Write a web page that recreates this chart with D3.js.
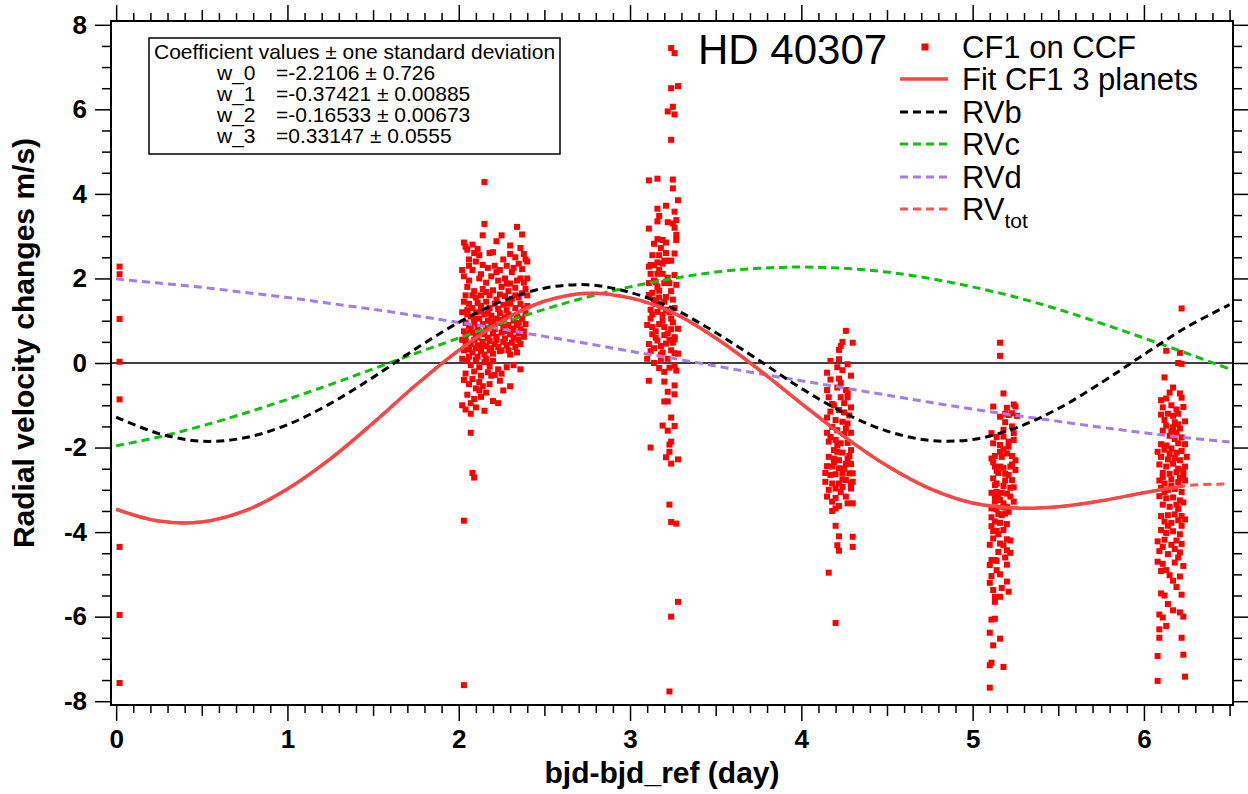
<!DOCTYPE html>
<html><head><meta charset="utf-8">
<script src="https://cdn.jsdelivr.net/npm/d3@7"></script>
<style>body{margin:0;background:#fff}svg{display:block}text{font-family:"Liberation Sans",Arial,Helvetica,sans-serif}</style>
</head><body>
<svg id="chart" width="1248" height="794"></svg>
<script>
// ---------- data ----------
const xTicks = [0,1,2,3,4,5,6];
const yTicks = [-8,-6,-4,-2,0,2,4,6,8];
const xLabel = "bjd-bjd_ref (day)";
const yLabel = "Radial velocity changes m/s)";
const title = "HD 40307";

const modelX = [0,0.25,0.5,0.75,1,1.25,1.5,1.75,2,2.25,2.5,2.75,3,3.25,3.5,3.75,4,4.25,4.5,4.75,5,5.25,5.5,5.75,6,6.25,6.5];
const rvb = [-1.28,-1.67,-1.85,-1.77,-1.46,-0.96,-0.34,0.34,0.96,1.46,1.77,1.85,1.67,1.29,0.72,0.07,-0.60,-1.18,-1.61,-1.83,-1.81,-1.54,-1.08,-0.47,0.20,0.85,1.38];
const rvc = [-1.96,-1.75,-1.49,-1.19,-0.86,-0.51,-0.14,0.23,0.59,0.94,1.27,1.56,1.80,2.00,2.15,2.24,2.27,2.24,2.15,2.00,1.80,1.56,1.27,0.94,0.59,0.23,-0.14];
const rvd = [1.99,1.89,1.79,1.67,1.55,1.41,1.27,1.12,0.96,0.80,0.63,0.46,0.28,0.11,-0.07,-0.25,-0.42,-0.59,-0.76,-0.93,-1.09,-1.24,-1.38,-1.52,-1.65,-1.77,-1.87];
const rvtot = [-3.46,-3.74,-3.76,-3.50,-2.98,-2.27,-1.42,-0.52,0.30,0.99,1.46,1.65,1.54,1.19,0.59,-0.15,-0.96,-1.74,-2.43,-2.97,-3.31,-3.43,-3.40,-3.26,-3.07,-2.90,-2.86];
const fitX = [0,0.25,0.5,0.75,1,1.25,1.5,1.75,2,2.25,2.5,2.75,3,3.25,3.5,3.75,4,4.25,4.5,4.75,5,5.25,5.5,5.75,6,6.23];
const fitY = [-3.46,-3.74,-3.76,-3.50,-2.98,-2.27,-1.42,-0.52,0.30,0.99,1.46,1.65,1.54,1.19,0.59,-0.15,-0.96,-1.74,-2.43,-2.97,-3.31,-3.43,-3.40,-3.26,-3.07,-2.91];

const night0 = [[0.02,2.28],[0.02,2.10],[0.02,1.04],[0.02,0.03],[0.02,-0.86],[0.02,-4.35],[0.02,-5.96],[0.02,-7.57]];
const night2 = [[2.15,4.28],[2.07,-1.65],[2.08,-2.60],[2.09,-2.71],[2.03,-3.73],[2.03,-7.62],
[2.15,3.29],[2.34,3.22],[2.14,3.02],[2.25,3.02],[2.37,3.04],[2.08,2.8],[2.03,2.85],[2.22,2.88],[2.30,2.78],[2.11,2.7],[2.36,2.72],
[2.04,2.75],[2.05,2.68],[2.09,2.6],[2.12,2.55],[2.18,2.6],[2.2,2.62],[2.26,2.45],[2.3,2.58],[2.33,2.5],[2.38,2.58],[2.39,2.45],[2.06,2.3],[2.1,2.4],[2.14,2.32],[2.17,2.25],[2.21,2.3],[2.28,2.3],[2.35,2.35],[2.02,2.2],[2.08,2.2],[2.24,2.2],[2.31,2.15],[2.37,2.22],
[2.03,2.05],[2.06,1.95],[2.12,2.0],[2.16,1.9],[2.19,2.05],[2.23,1.95],[2.27,2.0],[2.3,1.88],[2.34,1.95],[2.38,1.9],[2.4,2.0],[2.05,1.8],[2.09,1.7],[2.14,1.75],[2.2,1.72],[2.25,1.8],[2.29,1.7],[2.33,1.78],[2.37,1.65],[2.39,1.75],[2.04,1.6],[2.1,1.55],[2.18,1.6],[2.22,1.5],[2.27,1.58],[2.31,1.52],[2.35,1.55],
[2.03,1.45],[2.06,1.4],[2.08,1.3],[2.11,1.42],[2.13,1.35],[2.16,1.45],[2.18,1.3],[2.21,1.4],[2.23,1.28],[2.26,1.38],[2.28,1.25],[2.3,1.42],[2.33,1.3],[2.36,1.4],[2.38,1.28],[2.4,1.35],[2.02,1.2],[2.05,1.15],[2.07,1.1],[2.1,1.2],[2.12,1.05],[2.15,1.15],[2.17,1.0],[2.19,1.12],[2.22,1.05],[2.24,1.18],[2.27,1.08],[2.29,1.15],[2.32,1.0],[2.34,1.12],[2.37,1.05],[2.39,1.18],[2.04,0.95],[2.06,0.88],[2.09,0.95],[2.11,0.85],[2.14,0.92],[2.16,0.82],[2.19,0.9],[2.21,0.8],[2.24,0.95],[2.26,0.85],[2.29,0.9],[2.31,0.82],[2.34,0.9],[2.36,0.8],[2.39,0.92],
[2.03,0.75],[2.05,0.7],[2.08,0.72],[2.1,0.65],[2.12,0.75],[2.15,0.68],[2.17,0.6],[2.2,0.7],[2.22,0.62],[2.25,0.72],[2.27,0.58],[2.3,0.68],[2.32,0.6],[2.35,0.7],[2.38,0.62],[2.02,0.55],[2.04,0.5],[2.07,0.45],[2.09,0.55],[2.11,0.42],[2.14,0.5],[2.16,0.4],[2.18,0.52],[2.21,0.45],[2.23,0.38],[2.26,0.5],[2.28,0.42],[2.31,0.48],[2.33,0.38],[2.36,0.45],[2.06,0.32],[2.08,0.25],[2.1,0.35],[2.13,0.28],[2.15,0.2],[2.18,0.3],[2.2,0.22],[2.24,0.28],[2.29,0.3],[2.34,0.25],[2.03,0.3],
[2.02,0.1],[2.05,0.05],[2.07,-0.05],[2.1,0.08],[2.12,-0.1],[2.15,0.02],[2.18,-0.08],[2.2,0.05],[2.23,-0.15],[2.28,-0.1],[2.32,-0.05],[2.36,-0.15],[2.04,-0.25],[2.09,-0.2],[2.13,-0.3],[2.17,-0.22],[2.21,-0.28],
[2.03,-0.4],[2.06,-0.5],[2.08,-0.38],[2.1,-0.6],[2.12,-0.45],[2.14,-0.55],[2.16,-0.7],[2.18,-0.5],[2.24,-0.42],[2.26,-0.65],[2.3,-0.55],[2.05,-0.75],[2.09,-0.85],[2.13,-0.8],[2.2,-0.9],[2.23,-0.95],[2.02,-1.0],[2.04,-1.1],[2.07,-1.2],[2.15,-1.13],[2.1,-1.05],
[2.05,1.25],[2.09,1.05],[2.13,1.22],[2.17,1.18],[2.2,0.98],[2.25,1.02],[2.28,0.75],[2.32,0.78],[2.35,0.95],[2.38,0.75],[2.04,0.62],[2.07,0.82],[2.11,0.6],[2.14,0.4],[2.19,0.35],[2.22,0.55],[2.25,0.3],[2.3,0.2],[2.35,0.55],[2.06,0.15],[2.11,0.15],[2.16,0.1],[2.19,-0.3],[2.25,-0.25],[2.08,1.6],[2.13,1.6],[2.16,1.68],[2.24,1.62],[2.28,1.88],[2.32,2.25],[2.36,2.0],[2.4,1.6],[2.4,2.4],[2.06,2.45],[2.13,2.1],[2.22,2.15],[2.29,1.4],[2.33,1.6],[2.12,-0.65],[2.07,-0.95]];
const night3 = [[3.24,7.45],[3.26,7.33],[3.24,6.50],[3.28,6.55],[3.25,6.06],[3.22,5.95],[3.26,5.88],[3.24,5.28],
[3.11,4.32],[3.16,4.36],[3.25,4.34],[3.25,4.13],[3.28,3.85],[3.16,3.65],[3.21,3.72],[3.26,3.58],[3.17,3.48],
[3.22,3.33],[3.16,3.35],[3.27,3.38],[3.25,3.30],[3.26,3.20],[3.11,3.18],[3.27,3.03],[3.27,2.91],
[3.16,2.93],[3.19,2.91],[3.21,2.85],[3.14,2.82],[3.18,2.72],[3.26,2.59],
[3.13,2.55],[3.17,2.55],[3.20,2.42],[3.22,2.42],[3.24,2.42],[3.12,2.32],[3.16,2.38],[3.19,2.35],[3.11,2.28],[3.14,2.31],
[3.12,2.11],[3.16,2.11],[3.19,2.11],[3.22,2.02],[3.26,2.08],[3.11,1.89],[3.15,1.91],[3.20,1.89],[3.23,1.89],[3.27,1.85],
[3.11,1.61],[3.13,1.66],[3.17,1.71],[3.21,1.56],[3.25,1.50],[3.14,1.50],[3.12,1.26],[3.16,1.21],[3.19,1.14],[3.21,1.26],[3.25,0.96],
[3.10,0.90],[3.13,0.85],[3.17,0.92],[3.20,0.85],[3.24,0.80],[3.28,0.81],[3.26,0.61],[3.13,0.68],[3.16,0.53],[3.21,0.46],[3.25,0.48],[3.26,0.56],[3.20,0.66],
[3.12,0.28],[3.18,0.20],[3.22,0.10],[3.26,0.23],[3.28,0.22],[3.14,0.00],[3.10,0.10],[3.17,-0.12],[3.20,-0.21],[3.23,-0.11],[3.27,-0.18],[3.18,0.05],[3.26,-0.06],
[3.11,-0.42],[3.20,-0.44],[3.22,-0.68],[3.26,-0.53],[3.20,-0.91],[3.22,-0.91],[3.26,-0.74],[3.24,-1.29],[3.26,-1.49],[3.19,-1.48],[3.22,-1.60],
[3.12,-2.00],[3.24,-1.86],[3.23,-1.93],[3.23,-2.10],[3.21,-2.23],[3.28,-2.28],[3.24,-2.38],[3.23,-3.35],[3.24,-3.76],[3.27,-3.80],[3.28,-5.65],[3.24,-6.00],[3.23,-7.77],
[3.15,1.40],[3.18,1.35],[3.23,1.20],[3.19,1.00],[3.15,0.75],[3.22,0.70],[3.18,0.40],[3.14,0.35],[3.24,0.30],[3.16,1.80],[3.24,1.70],[3.12,1.05],
[3.13,1.15],[3.17,1.55],[3.20,1.45],[3.24,1.05],[3.15,0.60],[3.19,0.25],[3.23,0.55],[3.17,2.20],[3.21,2.60],[3.14,1.95],[3.26,1.30],[3.11,0.45]];
const night4 = [[4.26,0.76],[4.24,0.50],[4.30,0.48],[4.23,0.40],[4.22,0.31],[4.17,0.05],[4.22,0.09],[4.27,-0.03],
[4.15,-0.23],[4.21,-0.10],[4.24,-0.17],[4.29,-0.30],[4.17,-0.39],[4.22,-0.37],[4.23,-0.47],[4.15,-0.64],[4.21,-0.58],[4.26,-0.64],[4.27,-0.70],
[4.16,-0.81],[4.23,-0.81],[4.27,-0.81],[4.29,-1.05],[4.18,-0.97],[4.22,-1.11],[4.25,-1.17],[4.28,-1.24],
[4.15,-1.29],[4.20,-1.35],[4.24,-1.39],[4.27,-1.43],[4.29,-1.65],[4.15,-1.65],[4.18,-1.51],[4.21,-1.59],[4.25,-1.68],
[4.16,-1.86],[4.20,-1.82],[4.23,-1.90],[4.27,-1.89],[4.19,-2.06],[4.21,-2.10],[4.24,-2.12],[4.29,-2.06],
[4.16,-2.22],[4.19,-2.26],[4.22,-2.30],[4.27,-2.26],[4.15,-2.44],[4.18,-2.45],[4.22,-2.49],[4.26,-2.39],[4.29,-2.39],
[4.14,-2.60],[4.17,-2.65],[4.20,-2.63],[4.24,-2.60],[4.28,-2.61],[4.30,-2.61],
[4.14,-2.81],[4.18,-2.85],[4.22,-2.85],[4.26,-2.77],[4.29,-2.85],[4.20,-2.97],[4.24,-2.93],[4.30,-2.81],[4.29,-2.97],
[4.15,-3.16],[4.20,-3.19],[4.26,-3.16],[4.18,-3.28],[4.27,-3.32],[4.30,-3.32],[4.22,-3.38],[4.18,-3.50],[4.20,-3.44],
[4.20,-3.85],[4.22,-4.10],[4.30,-4.11],[4.21,-4.31],[4.30,-4.35],[4.22,-4.44],[4.16,-4.96],[4.20,-6.15],
[4.19,-1.00],[4.25,-0.95],[4.17,-1.75],[4.26,-1.55],[4.19,-2.35],[4.25,-2.50],[4.16,-3.00],[4.23,-3.05],[4.28,-2.20],[4.17,-1.15],[4.21,-1.95],[4.24,-2.75]];
const night5 = [[5.16,0.48],[5.16,0.17],[5.18,-0.72],
[5.12,-1.03],[5.20,-1.06],[5.24,-0.98],[5.25,-1.03],[5.16,-1.27],[5.19,-1.40],[5.21,-1.23],[5.23,-1.19],[5.26,-1.25],
[5.11,-1.66],[5.18,-1.58],[5.23,-1.50],[5.24,-1.66],[5.18,-1.74],[5.12,-1.90],[5.16,-1.94],[5.21,-1.86],[5.24,-1.82],[5.18,-2.04],
[5.11,-2.26],[5.13,-2.20],[5.17,-2.22],[5.20,-2.14],[5.23,-2.20],[5.25,-2.30],[5.13,-2.45],[5.16,-2.45],[5.18,-2.48],[5.22,-2.45],[5.25,-2.53],
[5.12,-2.73],[5.14,-2.85],[5.19,-2.78],[5.23,-2.77],[5.24,-2.94],[5.13,-2.89],[5.18,-2.91],
[5.11,-3.07],[5.15,-3.13],[5.17,-3.07],[5.20,-3.09],[5.22,-3.16],[5.24,-3.28],[5.13,-3.28],[5.18,-3.32],[5.16,-3.24],
[5.11,-3.44],[5.14,-3.46],[5.18,-3.41],[5.21,-3.52],[5.19,-3.56],[5.15,-3.57],
[5.11,-3.65],[5.13,-3.75],[5.16,-3.78],[5.20,-3.81],[5.11,-3.86],[5.14,-3.97],[5.12,-3.98],
[5.20,-4.17],[5.22,-4.20],[5.16,-4.27],[5.18,-4.31],[5.20,-4.43],[5.22,-4.49],[5.10,-4.30],[5.15,-4.47],
[5.11,-4.66],[5.13,-4.66],[5.14,-4.68],[5.10,-4.78],[5.20,-4.77],
[5.16,-5.00],[5.11,-5.04],[5.20,-5.17],[5.10,-5.20],[5.17,-5.32],[5.12,-5.37],[5.21,-5.41],[5.13,-5.53],[5.16,-5.53],[5.13,-5.65],
[5.11,-6.07],[5.13,-6.05],[5.10,-6.38],[5.16,-6.52],[5.12,-6.68],[5.11,-7.09],[5.10,-7.15],[5.18,-7.19],[5.10,-7.68],
[5.12,-2.35],[5.15,-2.60],[5.19,-2.62],[5.22,-2.95],[5.14,-3.05],[5.20,-3.40],[5.17,-3.60],[5.13,-3.15],[5.21,-2.65],[5.16,-2.10],[5.21,-1.98],[5.14,-1.75],[5.19,-1.20],[5.14,-2.55],[5.23,-2.40],[5.15,-4.05],[5.18,-3.95],[5.12,-4.15],[5.19,-4.60],[5.14,-4.90]];
const night6 = [[6.22,1.29],[6.13,0.29],[6.21,0.24],[6.20,0.00],[6.22,-0.02],
[6.12,-0.34],[6.17,-0.58],[6.15,-0.70],[6.21,-0.72],[6.22,-0.82],[6.10,-0.88],[6.13,-0.84],
[6.11,-1.05],[6.16,-1.00],[6.19,-1.10],[6.23,-1.04],[6.10,-1.22],[6.14,-1.20],[6.17,-1.25],[6.20,-1.20],[6.12,-1.35],[6.18,-1.40],[6.24,-1.38],[6.13,-1.48],[6.20,-1.45],
[6.16,-1.62],[6.21,-1.55],[6.15,-1.72],[6.18,-1.80],[6.22,-1.76],[6.10,-1.92],[6.13,-1.95],[6.20,-1.90],[6.24,-1.92],
[6.08,-2.10],[6.12,-2.05],[6.16,-2.02],[6.19,-2.12],[6.22,-2.08],[6.10,-2.22],[6.14,-2.28],[6.18,-2.25],[6.21,-2.30],[6.25,-2.22],
[6.09,-2.40],[6.13,-2.45],[6.17,-2.38],[6.20,-2.50],[6.24,-2.45],[6.11,-2.60],[6.15,-2.62],[6.19,-2.58],[6.23,-2.65],
[6.09,-2.78],[6.12,-2.85],[6.16,-2.75],[6.20,-2.82],[6.24,-2.78],[6.10,-2.95],[6.14,-3.00],[6.18,-2.98],[6.22,-3.05],
[6.09,-3.15],[6.13,-3.20],[6.17,-3.18],[6.21,-3.25],[6.11,-3.35],[6.15,-3.40],[6.19,-3.35],[6.23,-3.30],
[6.10,-3.62],[6.14,-3.60],[6.18,-3.58],[6.22,-3.62],[6.12,-3.75],[6.16,-3.78],[6.20,-3.72],[6.24,-3.70],
[6.10,-3.95],[6.13,-4.02],[6.17,-3.98],[6.21,-4.05],[6.08,-4.22],[6.12,-4.18],[6.19,-4.20],[6.22,-4.28],
[6.09,-4.45],[6.14,-4.52],[6.18,-4.40],[6.21,-4.48],[6.08,-4.70],[6.11,-4.75],[6.18,-4.72],[6.23,-4.80],
[6.10,-4.92],[6.15,-5.02],[6.21,-5.05],[6.17,-5.15],[6.10,-5.45],[6.12,-5.50],[6.22,-5.48],
[6.17,-5.85],[6.21,-5.90],[6.23,-6.00],[6.09,-5.95],[6.11,-6.02],[6.09,-6.30],[6.13,-6.22],[6.09,-6.50],[6.22,-6.50],
[6.08,-6.93],[6.23,-6.90],[6.08,-7.52],[6.24,-7.42],
[6.11,-1.60],[6.19,-1.65],[6.15,-2.15],[6.11,-2.70],[6.21,-2.72],[6.16,-2.90],[6.12,-3.05],[6.20,-3.45],[6.14,-3.85],[6.22,-3.85],[6.16,-4.30],[6.11,-4.35],[6.20,-4.60],[6.13,-4.90],[6.19,-5.30],[6.14,-5.70],[6.17,-1.52],[6.23,-2.55]];

const coefHeader = "Coefficient values \u00b1 one standard deviation";
const coefNames = ["w_0","w_1","w_2","w_3"];
const coefValues = ["=-2.2106 \u00b1 0.726","=-0.37421 \u00b1 0.00885","=-0.16533 \u00b1 0.00673","=0.33147 \u00b1 0.0555"];
const legendLabels = ["CF1 on CCF","Fit CF1 3 planets","RVb","RVc","RVd","RV"];

// ---------- styles ----------
const RED = "#ff0000", FIT = "#f64646", GREEN = "#10c010", PURPLE = "#a67be6", TOT = "#ff5252";

// ---------- drawing ----------
const svg = d3.select("#chart");
const L = 111, R = 1233, T = 21, B = 705;
const x = d3.scaleLinear().domain([-0.03, 6.52]).range([L, R]);
const y = d3.scaleLinear().domain([-8.09, 8.09]).range([B, T]);

svg.append("defs").append("clipPath").attr("id","clip")
  .append("rect").attr("x",L).attr("y",T).attr("width",R-L).attr("height",B-T);

svg.append("line").attr("x1",L).attr("x2",R).attr("y1",y(0)).attr("y2",y(0))
  .attr("stroke","#000").attr("stroke-width",1.5);

const plot = svg.append("g").attr("clip-path","url(#clip)");
const allPts = [].concat(night0, night2, night3, night4, night5, night6);
const ms = 6;
plot.selectAll("rect.pt").data(allPts).enter().append("rect").attr("class","pt")
  .attr("x", d => x(d[0]) - ms/2).attr("y", d => y(d[1]) - ms/2)
  .attr("width", ms).attr("height", ms).attr("fill", RED);

const line = d3.line().x(d => x(d[0])).y(d => y(d[1])).curve(d3.curveCatmullRom);
function curve(xs, ys, color, width, dash){
  plot.append("path").datum(xs.map((v,i)=>[v, ys[i]]))
    .attr("d", line).attr("fill","none").attr("stroke",color)
    .attr("stroke-width",width).attr("stroke-dasharray",dash||null);
}
curve(modelX, rvtot, TOT, 3, "8,5");
curve(modelX, rvc, GREEN, 3, "8,5");
curve(modelX, rvd, PURPLE, 3, "8,5");
curve(fitX, fitY, FIT, 3.5);
curve(modelX, rvb, "#000", 3, "8,5");

// axes
const fmt = d => String(d);
const tickFont = g => g.selectAll("text").attr("font-size",26).attr("font-weight","bold")
  .attr("font-family","'Liberation Sans',Arial,sans-serif").attr("fill","#000");
const styleAxis = g => { g.select(".domain").remove(); g.selectAll("line").attr("stroke","#000").attr("stroke-width",1.5); };

const xMinor = d3.range(0, 66).map(i => i/10).filter(v => Math.abs(v - Math.round(v)) > 1e-6 && Math.abs(v*2 - Math.round(v*2)) > 1e-6);
const xHalf = [0.5,1.5,2.5,3.5,4.5,5.5,6.5];
const yMinor = d3.range(-8, 8.01, 0.5).filter(v => Math.abs(v/2 - Math.round(v/2)) > 1e-6);

function xAxes(axisFn, yPos){
  svg.append("g").attr("transform",`translate(0,${yPos})`).call(axisFn(x).tickValues(xMinor).tickSize(8).tickFormat("")).call(styleAxis);
  svg.append("g").attr("transform",`translate(0,${yPos})`).call(axisFn(x).tickValues(xHalf).tickSize(11).tickFormat("")).call(styleAxis);
}
xAxes(d3.axisBottom, B); xAxes(d3.axisTop, T);
svg.append("g").attr("transform",`translate(0,${B})`)
  .call(d3.axisBottom(x).tickValues(xTicks).tickSize(16).tickPadding(9).tickFormat(fmt))
  .call(styleAxis).call(tickFont);
svg.append("g").attr("transform",`translate(0,${T})`)
  .call(d3.axisTop(x).tickValues(xTicks).tickSize(16).tickFormat("")).call(styleAxis);

svg.append("g").attr("transform",`translate(${L},0)`).call(d3.axisLeft(y).tickValues(yMinor).tickSize(9).tickFormat("")).call(styleAxis);
svg.append("g").attr("transform",`translate(${L},0)`)
  .call(d3.axisLeft(y).tickValues(yTicks).tickSize(16).tickPadding(8).tickFormat(fmt))
  .call(styleAxis).call(tickFont);
svg.append("g").attr("transform",`translate(${R},0)`).call(d3.axisRight(y).tickValues(yMinor).tickSize(9).tickFormat("")).call(styleAxis);
svg.append("g").attr("transform",`translate(${R},0)`).call(d3.axisRight(y).tickValues(yTicks).tickSize(16).tickFormat("")).call(styleAxis);

svg.append("rect").attr("x",L).attr("y",T).attr("width",R-L).attr("height",B-T)
  .attr("fill","none").attr("stroke","#000").attr("stroke-width",2);

// axis labels
svg.append("text").attr("x",(L+R)/2 - 10).attr("y",783).attr("text-anchor","middle")
  .attr("font-size",30).attr("font-weight","bold").text(xLabel);
svg.append("text").attr("transform",`translate(34,${(T+B)/2 - 20}) rotate(-90)`).attr("text-anchor","middle")
  .attr("font-size",30).attr("font-weight","bold").text(yLabel);

// coefficient box
svg.append("rect").attr("x",149).attr("y",38).attr("width",411).attr("height",116)
  .attr("fill","#fff").attr("stroke","#000").attr("stroke-width",1.5);
svg.append("text").attr("x",154).attr("y",59).attr("font-size",21).text(coefHeader);
coefNames.forEach((n,i) => {
  svg.append("text").attr("x",217).attr("y",80 + i*21).attr("font-size",21).text(n);
  svg.append("text").attr("x",276).attr("y",80 + i*21).attr("font-size",21).text(coefValues[i]);
});

svg.append("text").attr("x",698).attr("y",64).attr("font-size",42).text(title);

// legend
const legY = [47,79,112,144,177,209];
const lx0 = 900, lx1 = 948, tx = 962;
svg.append("rect").attr("x",925-3.5).attr("y",legY[0]-3.5).attr("width",7).attr("height",7).attr("fill",RED);
const legLines = [[FIT,null,3.5],["#000","8,5",3],[GREEN,"8,5",3],[PURPLE,"8,5",3],[TOT,"8,5",3]];
legLines.forEach((s,i) => {
  svg.append("line").attr("x1",lx0).attr("x2",lx1).attr("y1",legY[i+1]).attr("y2",legY[i+1])
    .attr("stroke",s[0]).attr("stroke-width",s[2]).attr("stroke-dasharray",s[1]);
});
legendLabels.forEach((t,i) => {
  const tt = svg.append("text").attr("x",tx).attr("y",legY[i]).attr("dy","0.36em").attr("font-size",31).text(t);
  if (i === 5) tt.append("tspan").attr("dy",8).attr("font-size",21).text("tot");
});
</script>
</body></html>
